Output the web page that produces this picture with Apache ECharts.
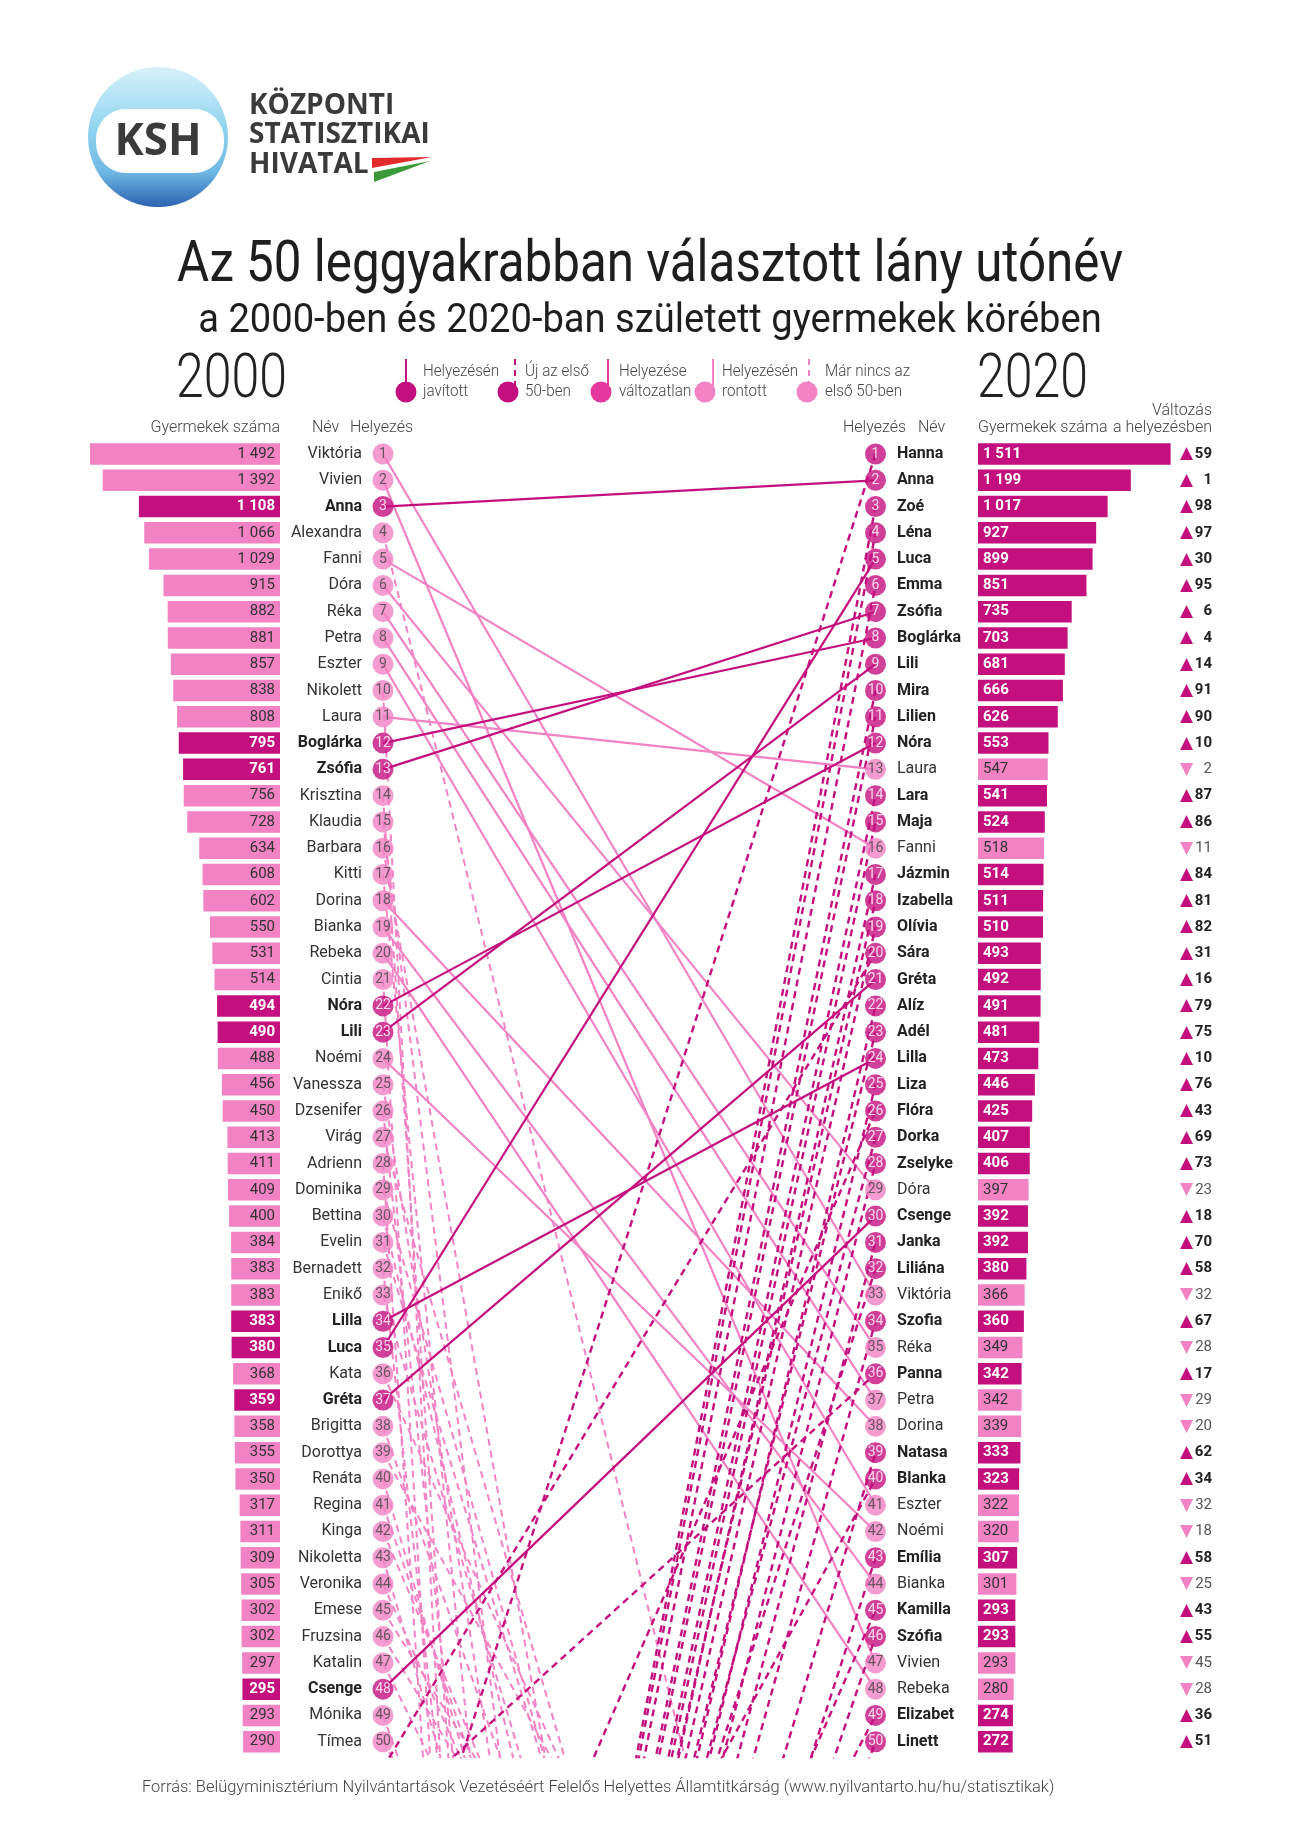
<!DOCTYPE html>
<html><head><meta charset="utf-8">
<script src="https://cdn.jsdelivr.net/npm/echarts@6/dist/echarts.min.js"></script>
<style>html,body{margin:0;padding:0;background:#fff}#c{width:1300px;height:1838px}</style>
</head><body><div id="c"></div>
<script>
// ---------------- DATA ----------------
const names2000 = ['Viktória','Vivien','Anna','Alexandra','Fanni','Dóra','Réka','Petra','Eszter','Nikolett','Laura','Boglárka','Zsófia','Krisztina','Klaudia','Barbara','Kitti','Dorina','Bianka','Rebeka','Cintia','Nóra','Lili','Noémi','Vanessza','Dzsenifer','Virág','Adrienn','Dominika','Bettina','Evelin','Bernadett','Enikő','Lilla','Luca','Kata','Gréta','Brigitta','Dorottya','Renáta','Regina','Kinga','Nikoletta','Veronika','Emese','Fruzsina','Katalin','Csenge','Mónika','Tímea'];
const counts2000 = [1492,1392,1108,1066,1029,915,882,881,857,838,808,795,761,756,728,634,608,602,550,531,514,494,490,488,456,450,413,411,409,400,384,383,383,383,380,368,359,358,355,350,317,311,309,305,302,302,297,295,293,290];
// 2020 rank of each 2000 name (ranks above 50 are estimated from the dashed line slopes)
const rank2020Of2000 = [33,47,2,80,16,29,35,37,41,360,13,8,7,290,165,121,207,38,44,48,330,12,9,42,143,199,91,306,95,108,92,201,96,24,5,77,21,91,73,104,95,86,108,86,75,77,85,30,101,82];

const names2020 = ['Hanna','Anna','Zoé','Léna','Luca','Emma','Zsófia','Boglárka','Lili','Mira','Lilien','Nóra','Laura','Lara','Maja','Fanni','Jázmin','Izabella','Olívia','Sára','Gréta','Alíz','Adél','Lilla','Liza','Flóra','Dorka','Zselyke','Dóra','Csenge','Janka','Liliána','Viktória','Szofia','Réka','Panna','Petra','Dorina','Natasa','Blanka','Eszter','Noémi','Emília','Bianka','Kamilla','Szófia','Vivien','Rebeka','Elizabet','Linett'];
const counts2020 = [1511,1199,1017,927,899,851,735,703,681,666,626,553,547,541,524,518,514,511,510,493,492,491,481,473,446,425,407,406,397,392,392,380,366,360,349,342,342,339,333,323,322,320,307,301,293,293,293,280,274,272];
const change2020 = [59,1,98,97,30,95,6,4,14,91,90,10,-2,87,86,-11,84,81,82,31,16,79,75,10,76,43,69,73,-23,18,70,58,-32,67,-28,17,-29,-20,62,34,-32,-18,58,-25,43,55,-45,-28,36,51];

// ---------------- STYLE ----------------
const DARK = '#c40f7e', LIGHT = '#f182c4', MID = '#e6399f';
const F = 'Roboto, "Noto Sans", sans-serif';
const TOP = 440.86, ROW = 26.28;
const fmt = v => String(v).replace(/\B(?=(\d{3})+(?!\d))/g, ' ');

const status2000 = names2000.map((n, i) => {
  const r1 = i + 1, r2 = rank2020Of2000[i];
  if (r2 > 50) return 'out';
  return r2 < r1 ? 'up' : (r2 > r1 ? 'down' : 'same');
});
const status2020 = change2020.map((c, j) => {
  if (j + 1 + c > 50) return 'new';
  return c > 0 ? 'up' : (c < 0 ? 'down' : 'same');
});
const colOf = s => (s === 'up' || s === 'new') ? DARK : (s === 'same' ? MID : LIGHT);

// ---------------- SERIES ----------------
const series = [];
names2000.forEach((n, i) => {
  const r1 = i + 1, r2 = rank2020Of2000[i], s = status2000[i];
  series.push({
    type: 'line', xAxisIndex: 1, yAxisIndex: 1, silent: true, symbol: 'none', z: 2,
    data: [[0, r1], [1, r2]],
    lineStyle: { color: colOf(s), width: s === 'out' ? 2 : 2.2, type: s === 'out' ? [7, 5] : 'solid' }
  });
});
names2020.forEach((n, j) => {
  const r2 = j + 1, r1 = r2 + change2020[j];
  if (status2020[j] !== 'new') return;
  series.push({
    type: 'line', xAxisIndex: 1, yAxisIndex: 1, silent: true, symbol: 'none', z: 3,
    data: [[0, r1], [1, r2]],
    lineStyle: { color: DARK, width: 2.4, type: [7, 5] }
  });
});

series.push({
  type: 'bar', xAxisIndex: 0, yAxisIndex: 0, barWidth: 21.5, silent: true,
  data: counts2000.map((v, i) => {
    const d = status2000[i] === 'up';
    return { value: v, itemStyle: { color: d ? DARK : LIGHT },
      label: { color: d ? '#fff' : '#333', fontWeight: d ? 'bold' : 'normal' } };
  }),
  label: { show: true, position: 'insideRight', distance: 5, fontFamily: F, fontSize: 15, formatter: p => fmt(p.value) }
});
series.push({
  type: 'bar', xAxisIndex: 2, yAxisIndex: 2, barWidth: 21.5, silent: true,
  data: counts2020.map((v, j) => {
    const d = status2020[j] === 'up' || status2020[j] === 'new';
    return { value: v, itemStyle: { color: d ? DARK : LIGHT },
      label: { color: d ? '#fff' : '#333', fontWeight: d ? 'bold' : 'normal' } };
  }),
  label: { show: true, position: 'insideLeft', distance: 5, fontFamily: F, fontSize: 15, formatter: p => fmt(p.value) }
});
series.push({
  type: 'scatter', xAxisIndex: 1, yAxisIndex: 1, clip: false, silent: true, z: 5,
  symbolSize: 21,
  data: names2000.map((n, i) => {
    const d = status2000[i] === 'up';
    return { value: [0, i + 1], itemStyle: { color: d ? DARK : LIGHT }, label: { color: d ? '#fff' : '#444' } };
  }),
  label: { show: true, position: 'inside', fontFamily: F, fontSize: 14, formatter: p => p.value[1] }
});
series.push({
  type: 'scatter', xAxisIndex: 1, yAxisIndex: 1, clip: false, silent: true, z: 5,
  symbolSize: 21,
  data: names2020.map((n, j) => {
    const d = status2020[j] === 'up' || status2020[j] === 'new';
    return { value: [1, j + 1], itemStyle: { color: d ? DARK : LIGHT }, label: { color: d ? '#fff' : '#444' } };
  }),
  label: { show: true, position: 'inside', fontFamily: F, fontSize: 14, formatter: p => p.value[1] }
});

const nameRich = {
  n: { fontFamily: F, fontSize: 16, color: '#333' },
  b: { fontFamily: F, fontSize: 16, color: '#222', fontWeight: 'bold' }
};

// ---------------- GRAPHIC (logo, titles, headers, legend) ----------------
const T = (x, y, text, o) => Object.assign({ type: 'text', x: x, y: y, silent: true,
  style: Object.assign({ text: text, fontFamily: F, fontSize: 16, fill: '#444', textAlign: 'left', textVerticalAlign: 'middle' }, o && o.style) }, o && o.el);
const LOGOF = '"Open Sans", Roboto, sans-serif';

const graphic = [
  // logo
  { type: 'circle', shape: { cx: 158, cy: 137, r: 70 }, style: { fill: { type: 'linear', x: 0, y: 0, x2: 0, y2: 1,
      colorStops: [{ offset: 0, color: '#d8f1fb' }, { offset: 0.45, color: '#8fd3ef' }, { offset: 0.75, color: '#6fb7e4' }, { offset: 1, color: '#2a62b0' }] } } },
  { type: 'rect', shape: { x: 96, y: 109, width: 128, height: 64, r: 30 }, style: { fill: '#fff' } },
  T(158, 142, 'KSH', { style: { fontSize: 44, fontWeight: 'bold', fill: '#3b3b3b', textAlign: 'center', fontFamily: LOGOF } }),
  T(249, 106, 'KÖZPONTI', { style: { fontSize: 28, fontWeight: 'bold', fill: '#3a3a3a', fontFamily: LOGOF }, el: { scaleX: 1.0 } }),
  T(249, 135, 'STATISZTIKAI', { style: { fontSize: 28, fontWeight: 'bold', fill: '#3a3a3a', fontFamily: LOGOF }, el: { scaleX: 1.0 } }),
  T(249, 165, 'HIVATAL', { style: { fontSize: 28, fontWeight: 'bold', fill: '#3a3a3a', fontFamily: LOGOF }, el: { scaleX: 1.0 } }),
  { type: 'polygon', shape: { points: [[372, 158], [432, 157], [372, 168]] }, style: { fill: '#e32a2a' } },
  { type: 'polygon', shape: { points: [[374, 172], [430, 161], [374, 182]] }, style: { fill: '#3a9a3a' } },
  // titles
  T(650, 267, 'Az 50 leggyakrabban választott lány utónév', { style: { fontSize: 57, fill: '#1e1e1e', textAlign: 'center' }, el: { scaleX: 0.865 } }),
  T(650, 322, 'a 2000-ben és 2020-ban született gyermekek körében', { style: { fontSize: 41, fill: '#1e1e1e', textAlign: 'center' }, el: { scaleX: 0.93 } }),
  T(176, 382, '2000', { style: { fontSize: 61, fontWeight: 300, fill: '#222' }, el: { scaleX: 0.82 } }),
  T(977, 382, '2020', { style: { fontSize: 61, fontWeight: 300, fill: '#222' }, el: { scaleX: 0.82 } }),
  // column headers
  T(280, 428, 'Gyermekek száma', { style: { textAlign: 'right', fontWeight: 300 } }),
  T(312, 428, 'Név', { style: { fontWeight: 300 } }),
  T(350, 428, 'Helyezés', { style: { fontWeight: 300 } }),
  T(843, 428, 'Helyezés', { style: { fontWeight: 300 } }),
  T(918, 428, 'Név', { style: { fontWeight: 300 } }),
  T(978, 428, 'Gyermekek száma', { style: { fontWeight: 300 } }),
  T(1212, 428, 'a helyezésben', { style: { textAlign: 'right', fontWeight: 300 } }),
  T(1212, 411, 'Változás', { style: { textAlign: 'right', fontWeight: 300 } }),
  // source
  T(142, 1788, 'Forrás: Belügyminisztérium Nyilvántartások Vezetéséért Felelős Helyettes Államtitkárság (www.nyilvantarto.hu/hu/statisztikak)', { style: { fontSize: 17, fill: '#444', fontWeight: 300 }, el: { scaleX: 0.97 } })
];
// legend
const legendItems = [
  { cx: 406, sx: 406, tx: 423, c: DARK, dash: false, l1: 'Helyezésén', l2: 'javított' },
  { cx: 508, sx: 515, tx: 525, c: DARK, dash: true, l1: 'Új az első', l2: '50-ben' },
  { cx: 601, sx: 608, tx: 619, c: MID, dash: false, l1: 'Helyezése', l2: 'változatlan' },
  { cx: 705, sx: 713, tx: 722, c: LIGHT, dash: false, l1: 'Helyezésén', l2: 'rontott' },
  { cx: 807, sx: 809, tx: 825, c: LIGHT, dash: true, l1: 'Már nincs az', l2: 'első 50-ben' }
];
legendItems.forEach(it => {
  graphic.push({ type: 'line', silent: true, shape: { x1: it.sx, y1: 359, x2: it.sx, y2: 386 },
    style: { stroke: it.c, lineWidth: 2, lineDash: it.dash ? [6, 5] : null } });
  graphic.push({ type: 'circle', silent: true, shape: { cx: it.cx, cy: 392, r: 10.5 }, style: { fill: it.c } });
  graphic.push(T(it.tx, 372, it.l1, { style: { fontSize: 16, fontWeight: 300, fill: '#444' }, el: { scaleX: 0.95 } }));
  graphic.push(T(it.tx, 392, it.l2, { style: { fontSize: 16, fontWeight: 300, fill: '#444' }, el: { scaleX: 0.95 } }));
});

const option = {
  animation: false,
  backgroundColor: '#fff',
  grid: [
    { left: 90, top: TOP, width: 190, height: ROW * 50 },
    { left: 383, top: TOP, width: 492.5, height: ROW * 50.08 },
    { left: 978, top: TOP, width: 192.6, height: ROW * 50 }
  ],
  xAxis: [
    { gridIndex: 0, type: 'value', inverse: true, min: 0, max: 1492, show: false },
    { gridIndex: 1, type: 'value', min: 0, max: 1, show: false },
    { gridIndex: 2, type: 'value', min: 0, max: 1511, show: false }
  ],
  yAxis: [
    { gridIndex: 0, type: 'category', inverse: true, data: names2000, position: 'right',
      axisLine: { show: false }, axisTick: { show: false }, splitLine: { show: false },
      axisLabel: { interval: 0, align: 'right', margin: 82, rich: nameRich,
        formatter: (v, i) => status2000[i] === 'up' ? '{b|' + v + '}' : '{n|' + v + '}' } },
    { gridIndex: 1, type: 'value', inverse: true, min: 0.5, max: 50.58, show: false },
    { gridIndex: 2, type: 'category', inverse: true, data: names2020, position: 'left',
      axisLine: { show: false }, axisTick: { show: false }, splitLine: { show: false },
      axisLabel: { interval: 0, align: 'left', margin: 81, rich: nameRich,
        formatter: (v, i) => (status2020[i] === 'down') ? '{n|' + v + '}' : '{b|' + v + '}' } },
    { gridIndex: 2, type: 'category', inverse: true, data: change2020.map(String), position: 'right',
      axisLine: { show: false }, axisTick: { show: false }, splitLine: { show: false },
      axisLabel: { interval: 0, align: 'right', margin: 41.4,
        rich: {
          u: { color: DARK, fontSize: 17, fontFamily: 'DejaVu Sans' },
          un: { color: '#222', fontSize: 15, fontWeight: 'bold', fontFamily: F, width: 19, align: 'right' },
          d: { color: LIGHT, fontSize: 17, fontFamily: 'DejaVu Sans' },
          dn: { color: '#555', fontSize: 15, fontFamily: F, width: 19, align: 'right' }
        },
        formatter: (v, i) => {
          const c = change2020[i];
          return c >= 0 ? '{u|▲}{un|' + c + '}' : '{d|▼}{dn|' + (-c) + '}';
        } } }
  ],
  graphic: graphic,
  series: series
};
const chart = echarts.init(document.getElementById('c'), null, { renderer: 'canvas' });
chart.setOption(option);
</script>
</body></html>
